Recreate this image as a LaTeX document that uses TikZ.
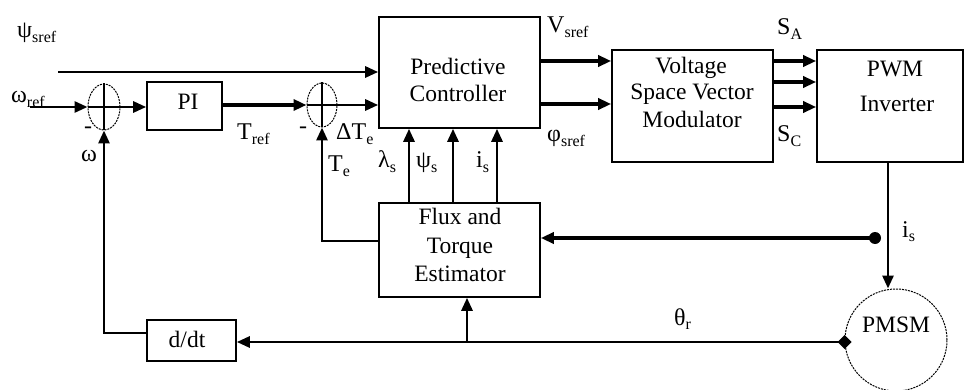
\documentclass[tikz,border=0pt]{standalone}
\usepackage{fontspec}
\setmainfont{Liberation Serif}
\usetikzlibrary{arrows.meta,shapes.geometric}
\newcommand\sbs[1]{\raisebox{-0.4ex}{\fontsize{16}{16}\selectfont #1}}
\tikzset{
  blk/.style={draw, line width=1.6pt, inner sep=0pt},
  txt/.style={anchor=base, inner sep=0pt, font=\fontsize{23.5}{26}\selectfont},
  sumj/.style={draw, dashed, dash pattern=on 2pt off 1pt, line width=1pt, ellipse, inner sep=0pt},
  sig/.style={line width=2.8pt, -{Triangle[length=13pt,width=11pt]}},
  sigt/.style={line width=4.5pt, -{Triangle[length=13pt,width=11pt]}},
  lbl/.style={anchor=base west, font=\fontsize{24}{26}\selectfont, inner sep=0pt},
}
\begin{document}
\begin{tikzpicture}[x=1pt,y=-1pt]
\useasboundingbox (0,0) rectangle (966,390);
% blocks
\node[blk, minimum width=75pt, minimum height=48pt] (pi) at (184.5,106) {};
\node[txt] (tpi) at (188,110) {PI};
\node[blk, minimum width=161pt, minimum height=111pt] (pc) at (459.5,72.5) {};
\node[txt] (tpc1) at (458,75) {Predictive};
\node[txt] (tpc2) at (458,102) {Controller};
\node[blk, minimum width=161pt, minimum height=112pt] (vsvm) at (692.5,106) {};
\node[txt] (tv1) at (691,74) {Voltage};
\node[txt] (tv2) at (692,100) {Space Vector};
\node[txt] (tv3) at (692,128) {Modulator};
\node[blk, minimum width=146pt, minimum height=112pt] (pwm) at (890,106) {};
\node[txt] (tw1) at (895,77) {PWM};
\node[txt] (tw2) at (897,112) {Inverter};
\node[blk, minimum width=161pt, minimum height=94pt] (est) at (459.5,250) {};
\node[txt] (te1) at (460,224) {Flux and};
\node[txt] (te2) at (460,253) {Torque};
\node[txt] (te3) at (460,281) {Estimator};
\node[blk, minimum width=89pt, minimum height=41pt] (ddt) at (191.5,340.5) {};
\node[txt] (td) at (187,347) {d/dt};
\node[draw, circle, dashed, dash pattern=on 2pt off 1pt, line width=1pt, minimum size=102pt, inner sep=0pt] (pmsm) at (896,340) {};
\node[txt] (tm) at (896,332) {PMSM};
% summing junctions
\node[sumj, minimum width=32pt, minimum height=46pt] (s1) at (104,107) {};
\draw[line width=1.2pt] (s1.west) -- (s1.east) (s1.north) -- (s1.south);
\node[sumj, minimum width=30pt, minimum height=44pt] (s2) at (322,105) {};
\draw[line width=1.2pt] (s2.west) -- (s2.east) (s2.north) -- (s2.south);
% helper coordinates
\coordinate (psistart) at (58,72);
\coordinate (wstart) at (30,107);
\coordinate (isdot) at (875,238);
\coordinate (br) at (467,342);
\coordinate (c1) at (104,333);
\coordinate (c2) at (322,241);
% connectors
\draw[sig] (psistart) -- (psistart -| pc.west);
\draw[sig] (wstart) -- (s1.west);
\draw[sig] (s1.east) -- (s1.east -| pi.west);
\draw[sigt] (pi.east |- s2.west) -- (s2.west);
\draw[sig] (s2.east) -- (s2.east -| pc.west);
\draw[sigt] (pc.east |- 0,61) -- (vsvm.west |- 0,61);
\draw[sigt] (pc.east |- 0,104) -- (vsvm.west |- 0,104);
\draw[sigt] (vsvm.east |- 0,61) -- (pwm.west |- 0,61);
\draw[sigt] (vsvm.east |- 0,82) -- (pwm.west |- 0,82);
\draw[sigt] (vsvm.east |- 0,107) -- (pwm.west |- 0,107);
\draw[sig] (pwm.south -| 888,0) -- (pmsm.north -| 888,0);
\draw[sigt] (isdot) -- (isdot -| est.east);
\fill (isdot) circle (6pt);
\draw[sig] (pmsm.west |- br) -- (ddt.east |- br);
\fill (pmsm.west |- br) +(-7,0) -- +(0,-7) -- +(7,0) -- +(0,7) -- cycle;
\draw[sig] (br) -- (br |- est.south);
\draw[sig] (ddt.west |- c1) -- (c1) -- (s1.south);
\draw[sig] (est.west |- c2) -- (c2) -- (s2.south);
\draw[sig] (est.north -| 409,0) -- (pc.south -| 409,0);
\draw[sig] (est.north -| 453,0) -- (pc.south -| 453,0);
\draw[sig] (est.north -| 497,0) -- (pc.south -| 497,0);
% labels
\node[lbl] (lpsi) at (17,38) {ψ\sbs{sref}};
\node[lbl] (lw) at (11,103) {ω\sbs{ref}};
\node[lbl, anchor=center] (m1) at (88,130) {-};
\node[lbl, anchor=center] (m2) at (303,130) {-};
\node[lbl] (lom) at (81,162) {ω};
\node[lbl] (ltref) at (237,140) {T\sbs{ref}};
\node[lbl] (ldte) at (336,140) {ΔT\sbs{e}};
\node[lbl] (lte) at (328,172) {T\sbs{e}};
\node[lbl] (llam) at (378,168) {λ\sbs{s}};
\node[lbl] (lpsis) at (416,168) {ψ\sbs{s}};
\node[lbl] (lis) at (476,168) {i\sbs{s}};
\node[lbl] (lv) at (547,33) {V\sbs{sref}};
\node[lbl] (lphi) at (547,142) {φ\sbs{sref}};
\node[lbl] (lsa) at (777,35) {S\sbs{A}};
\node[lbl] (lsc) at (777,142) {S\sbs{C}};
\node[lbl] (lis2) at (902,237) {i\sbs{s}};
\node[lbl] (lth) at (674,325) {θ\sbs{r}};
\end{tikzpicture}
\end{document}
